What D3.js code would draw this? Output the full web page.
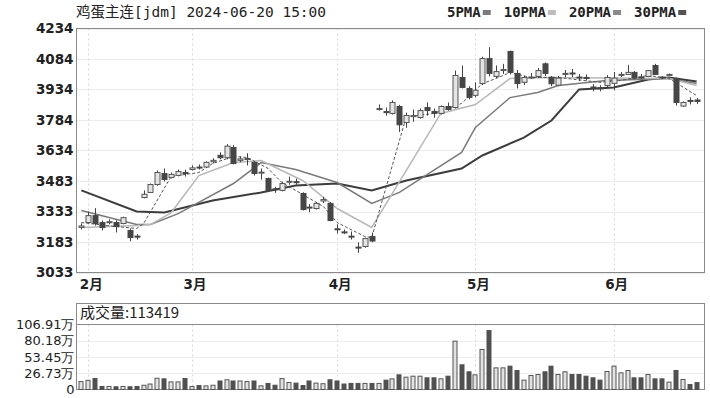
<!DOCTYPE html>
<html>
<head>
<meta charset="utf-8">
<script src="https://cdn.jsdelivr.net/npm/d3@7"></script>
<style>
  body { margin: 0; background: #fff; }
  svg { display: block; }
</style>
</head>
<body>
<div id="chart"></div>
<script>
// trading days shown on the chart
const dates = [
  '2024-01-31',
  '2024-02-01', '2024-02-02', '2024-02-05', '2024-02-06', '2024-02-07', '2024-02-08',
  '2024-02-19', '2024-02-20', '2024-02-21', '2024-02-22', '2024-02-23', '2024-02-26', '2024-02-27', '2024-02-28', '2024-02-29',
  '2024-03-01', '2024-03-04', '2024-03-05', '2024-03-06', '2024-03-07', '2024-03-08',
  '2024-03-11', '2024-03-12', '2024-03-13', '2024-03-14', '2024-03-15',
  '2024-03-18', '2024-03-19', '2024-03-20', '2024-03-21', '2024-03-22',
  '2024-03-25', '2024-03-26', '2024-03-27', '2024-03-28', '2024-03-29',
  '2024-04-01', '2024-04-02', '2024-04-03', '2024-04-08', '2024-04-09', '2024-04-10', '2024-04-11', '2024-04-12',
  '2024-04-15', '2024-04-16', '2024-04-17', '2024-04-18', '2024-04-19',
  '2024-04-22', '2024-04-23', '2024-04-24', '2024-04-25', '2024-04-26', '2024-04-29', '2024-04-30',
  '2024-05-06', '2024-05-07', '2024-05-08', '2024-05-09', '2024-05-10',
  '2024-05-13', '2024-05-14', '2024-05-15', '2024-05-16', '2024-05-17',
  '2024-05-20', '2024-05-21', '2024-05-22', '2024-05-23', '2024-05-24',
  '2024-05-27', '2024-05-28', '2024-05-29', '2024-05-30', '2024-05-31',
  '2024-06-03', '2024-06-04', '2024-06-05', '2024-06-06', '2024-06-07',
  '2024-06-11', '2024-06-12', '2024-06-13', '2024-06-14',
  '2024-06-17', '2024-06-18', '2024-06-19', '2024-06-20'
];

const opens = [
  3255, 3279, 3313, 3279, 3279, 3279, 3274, 3240, 3212, 3402,
  3427, 3466, 3520, 3501, 3511, 3525, 3540, 3552, 3552, 3578,
  3610, 3598, 3648, 3585, 3590, 3575, 3522, 3496, 3445, 3437,
  3478, 3480, 3422, 3355, 3348, 3385, 3373, 3248, 3233, 3212,
  3158, 3161, 3210, 3836, 3825, 3816, 3850, 3771, 3800, 3796,
  3845, 3826, 3816, 3850, 3845, 3993, 3939, 3905, 3963, 4086,
  3998, 4028, 4121, 4013, 3969, 3990, 3998, 4060, 3994, 3955,
  4010, 4015, 3995, 3993, 3946, 3942, 3953, 3964, 4005, 4008,
  4018, 3995, 3998, 4052, 3995, 4005, 3988, 3852, 3880, 3882
];
const highs = [
  3275, 3333, 3350, 3289, 3295, 3290, 3308, 3250, 3222, 3437,
  3471, 3535, 3545, 3525, 3540, 3540, 3560, 3565, 3580, 3595,
  3625, 3665, 3660, 3605, 3620, 3580, 3545, 3500, 3455, 3480,
  3505, 3495, 3428, 3370, 3378, 3405, 3380, 3270, 3245, 3235,
  3182, 3205, 3230, 3860, 3845, 3880, 3858, 3820, 3835, 3840,
  3870, 3840, 3855, 3870, 4027, 4052, 3950, 3969, 4095, 4142,
  4052, 4060, 4125, 4030, 4000, 4015, 4040, 4067, 4000, 4000,
  4030, 4035, 4010, 4008, 3960, 3955, 4005, 4020, 4020, 4055,
  4025, 4010, 4030, 4060, 4000, 4012, 3993, 3875, 3895, 3892
];
const lows = [
  3245, 3274, 3264, 3240, 3270, 3230, 3270, 3187, 3195, 3398,
  3425, 3460, 3481, 3496, 3506, 3505, 3535, 3540, 3548, 3570,
  3590, 3590, 3565, 3575, 3560, 3510, 3490, 3430, 3425, 3432,
  3465, 3465, 3338, 3330, 3343, 3375, 3285, 3225, 3222, 3195,
  3130, 3155, 3182, 3830, 3805, 3810, 3725, 3745, 3775, 3790,
  3805, 3795, 3810, 3830, 3840, 3939, 3885, 3895, 3955, 3998,
  3990, 4010, 4008, 3939, 3955, 3985, 3990, 4000, 3950, 3950,
  3995, 3995, 3975, 3978, 3925, 3925, 3945, 3930, 3995, 4005,
  3985, 3985, 3995, 4005, 3985, 4003, 3855, 3848, 3860, 3862
];
const closes = [
  3262, 3313, 3274, 3254, 3283, 3259, 3303, 3205, 3208, 3418,
  3466, 3525, 3491, 3516, 3530, 3520, 3548, 3550, 3575, 3585,
  3598, 3655, 3570, 3592, 3594, 3520, 3527, 3437, 3441, 3471,
  3482, 3476, 3343, 3353, 3373, 3392, 3289, 3245, 3230, 3210,
  3156, 3200, 3188, 3840, 3820, 3870, 3760, 3806, 3806, 3830,
  3830, 3816, 3850, 3835, 4003, 3944, 3895, 3930, 4086, 4013,
  4022, 4032, 4018, 3963, 3993, 3995, 4027, 4013, 3962, 3990,
  4013, 4013, 3990, 3990, 3944, 3939, 3993, 3990, 4008, 4018,
  3990, 3990, 4027, 4008, 3990, 4008, 3870, 3870, 3875, 3875
];
const volumes = [
  130000, 150000, 180000, 50000, 50000, 45000, 50000, 45000, 50000, 70000,
  90000, 185000, 175000, 125000, 125000, 180000, 50000, 65000, 60000, 70000,
  140000, 160000, 140000, 140000, 130000, 140000, 60000, 100000, 70000, 180000,
  115000, 105000, 65000, 140000, 105000, 95000, 160000, 140000, 90000, 100000,
  100000, 100000, 100000, 100000, 154000, 175000, 241000, 203000, 219000, 219000,
  192000, 192000, 175000, 219000, 795000, 406000, 291000, 241000, 658000, 970000,
  356000, 356000, 384000, 313000, 154000, 230000, 247000, 291000, 384000, 247000,
  291000, 247000, 247000, 219000, 192000, 154000, 296000, 384000, 274000, 313000,
  192000, 192000, 247000, 175000, 175000, 121000, 313000, 165000, 82000, 113419
];

// moving averages: [day index, price]
const ma5 = [
  [0, 3279], [5, 3259], [8, 3250], [9, 3274], [13, 3506], [17, 3525], [19, 3570],
  [22, 3604], [24, 3599], [27, 3545], [29, 3476], [31, 3437], [35, 3358], [37, 3279],
  [41, 3210], [42, 3205], [47, 3800], [51, 3816], [55, 3865], [58, 3963], [60, 3988],
  [62, 4018], [65, 3993], [69, 3993], [75, 3969], [78, 3978], [82, 4003], [85, 3988], [89, 3904]
];
const ma10 = [
  [0, 3255], [8, 3264], [10, 3269], [13, 3328], [17, 3510], [22, 3574], [26, 3584],
  [32, 3486], [37, 3348], [42, 3255], [52, 3816], [57, 3860], [62, 3988], [66, 3993],
  [85, 3988], [89, 3953]
];
const ma20 = [
  [0, 3338], [8, 3269], [10, 3269], [14, 3323], [22, 3471], [26, 3574], [31, 3540],
  [37, 3476], [42, 3373], [46, 3427], [55, 3624], [57, 3747], [62, 3894], [66, 3919],
  [69, 3953], [76, 3978], [85, 3988], [89, 3963]
];
const ma30 = [
  [0, 3437], [8, 3333], [12, 3328], [19, 3387], [26, 3427], [31, 3461], [37, 3471],
  [42, 3437], [47, 3486], [55, 3545], [58, 3609], [64, 3697], [68, 3781], [72, 3934],
  [77, 3944], [82, 3983], [85, 3993], [89, 3973]
];

const priceTicks = [3033, 3183, 3333, 3483, 3634, 3784, 3934, 4084, 4234];
const volTicks = [0, 267300, 534500, 801800, 1069100];
const volTickLabels = ['0', '26.73万', '53.45万', '80.18万', '106.91万'];
const monthStarts = ['2024-02-01', '2024-03-01', '2024-04-01', '2024-05-06', '2024-06-03'];
const monthLabels = ['2月', '3月', '4月', '5月', '6月'];

const title = '鸡蛋主连[jdm] 2024-06-20 15:00';
const volTitle = '成交量:' + volumes[volumes.length - 1];

const maSeries = [
  { name: '5PMA', pts: ma5, color: '#555', key: '#7a7a7a', width: 1, dash: '3,2' },
  { name: '10PMA', pts: ma10, color: '#b8b8b8', key: '#bdbdbd', width: 1.5, dash: null },
  { name: '20PMA', pts: ma20, color: '#7a7a7a', key: '#8a8a8a', width: 1.5, dash: null },
  { name: '30PMA', pts: ma30, color: '#3c3c3c', key: '#555', width: 2, dash: null }
];

const data = dates.map((d, i) => ({
  date: d, o: opens[i], h: highs[i], l: lows[i], c: closes[i], v: volumes[i]
}));

const W = 710, H = 398;
const main = { left: 76.5, right: 704.5, top: 28.5, bottom: 272.5 };
const vol = { top: 303.5, inner: 324.5, bottom: 389.5 };

const svg = d3.select('#chart').append('svg')
  .attr('width', W)
  .attr('height', H)
  .style('font-family', 'DejaVu Sans, "Noto Sans CJK SC", sans-serif');

// scales
const x = d3.scaleBand().domain(dates).range([77, 701]).padding(0.26);
const cx = d => x(d) + x.bandwidth() / 2;
const y = d3.scaleLinear().domain([3033, 4234]).range([main.bottom, main.top]);
const yv = d3.scaleLinear().domain([0, 1069100]).range([vol.bottom, vol.inner]);

// grid lines
svg.append('g')
  .selectAll('line')
  .data(priceTicks)
  .join('line')
  .attr('x1', main.left).attr('x2', main.right)
  .attr('y1', d => Math.round(y(d)) + 0.5).attr('y2', d => Math.round(y(d)) + 0.5)
  .attr('stroke', '#ececec');

svg.append('g')
  .selectAll('line')
  .data(volTicks.slice(1, -1))
  .join('line')
  .attr('x1', main.left).attr('x2', main.right)
  .attr('y1', d => Math.round(yv(d)) + 0.5).attr('y2', d => Math.round(yv(d)) + 0.5)
  .attr('stroke', '#eeeeee');

[[main.top, main.bottom], [vol.inner, vol.bottom]].forEach(([t, b]) => {
  svg.append('g')
    .selectAll('line')
    .data(monthStarts)
    .join('line')
    .attr('x1', d => Math.round(cx(d)) + 0.5).attr('x2', d => Math.round(cx(d)) + 0.5)
    .attr('y1', t).attr('y2', b)
    .attr('stroke', '#d8d8d8')
    .attr('stroke-dasharray', '2,3');
});

// frames
svg.append('rect')
  .attr('x', main.left).attr('y', main.top)
  .attr('width', main.right - main.left).attr('height', main.bottom - main.top)
  .attr('fill', 'none').attr('stroke', '#8a8a8a');
svg.append('rect')
  .attr('x', main.left).attr('y', vol.top)
  .attr('width', main.right - main.left).attr('height', vol.bottom - vol.top)
  .attr('fill', 'none').attr('stroke', '#8a8a8a');
svg.append('line')
  .attr('x1', main.left).attr('x2', main.right)
  .attr('y1', vol.inner).attr('y2', vol.inner)
  .attr('stroke', '#8a8a8a');

// moving average lines
const line = d3.line()
  .x(p => cx(dates[p[0]]))
  .y(p => y(p[1]));

svg.append('g')
  .selectAll('path')
  .data(maSeries.slice().reverse())
  .join('path')
  .attr('d', s => line(s.pts))
  .attr('fill', 'none')
  .attr('stroke', s => s.color)
  .attr('stroke-width', s => s.width)
  .attr('stroke-dasharray', s => s.dash);

// candles
const up = d => d.c >= d.o;
const candles = svg.append('g');
candles.selectAll('line')
  .data(data)
  .join('line')
  .attr('x1', d => Math.round(cx(d.date)) + 0.5)
  .attr('x2', d => Math.round(cx(d.date)) + 0.5)
  .attr('y1', d => y(d.h))
  .attr('y2', d => y(d.l))
  .attr('stroke', '#444');

candles.selectAll('rect')
  .data(data)
  .join('rect')
  .attr('x', d => Math.round(cx(d.date)) - 2)
  .attr('y', d => y(Math.max(d.o, d.c)))
  .attr('width', 5)
  .attr('height', d => Math.max(1, Math.abs(y(d.o) - y(d.c))))
  .attr('fill', d => up(d) ? '#e4e4e4' : '#464646')
  .attr('stroke', d => up(d) ? '#555' : '#464646')
  .attr('stroke-width', 1);

// volume bars
svg.append('g')
  .selectAll('rect')
  .data(data)
  .join('rect')
  .attr('x', d => Math.round(cx(d.date)) - 2)
  .attr('y', d => yv(d.v))
  .attr('width', 4)
  .attr('height', d => yv(0) - yv(d.v))
  .attr('fill', d => up(d) ? '#e2e2e2' : '#505050')
  .attr('stroke', d => up(d) ? '#555' : '#505050')
  .attr('stroke-width', 1);

// price axis
const yAxis = svg.append('g')
  .attr('transform', `translate(${main.left},0)`)
  .call(d3.axisLeft(y).tickValues(priceTicks).tickSize(0).tickPadding(3).tickFormat(d3.format('d')));
yAxis.select('.domain').remove();
yAxis.selectAll('text')
  .attr('font-family', 'DejaVu Sans, sans-serif')
  .attr('font-weight', 'bold')
  .attr('font-size', 13.5)
  .attr('fill', '#222');

// month axis
const xAxis = svg.append('g')
  .attr('transform', `translate(0,${main.bottom})`)
  .call(d3.axisBottom(x).tickValues(monthStarts).tickSize(0).tickPadding(7)
    .tickFormat((d, i) => monthLabels[i]));
xAxis.select('.domain').remove();
xAxis.selectAll('text')
  .attr('dx', 3)
  .attr('font-family', 'DejaVu Sans, "Noto Sans CJK SC", sans-serif')
  .attr('font-weight', 'bold')
  .attr('font-size', 13.5)
  .attr('fill', '#222');

// volume axis
const vAxis = svg.append('g')
  .attr('transform', `translate(${main.left},0)`)
  .call(d3.axisLeft(yv).tickValues(volTicks).tickSize(0).tickPadding(2)
    .tickFormat((d, i) => volTickLabels[i]));
vAxis.select('.domain').remove();
vAxis.selectAll('text')
  .attr('font-family', 'DejaVu Sans, sans-serif')
  .attr('font-size', 13)
  .attr('fill', '#222');

// titles
svg.append('text')
  .attr('x', 76).attr('y', 13)
  .attr('dominant-baseline', 'middle')
  .attr('font-family', '"DejaVu Sans Mono", "Noto Sans CJK SC", monospace')
  .attr('font-size', 14.5)
  .attr('fill', '#222')
  .text(title);

svg.append('text')
  .attr('x', 80).attr('y', 314)
  .attr('dominant-baseline', 'middle')
  .attr('font-family', '"Noto Sans CJK SC", "Noto Sans", sans-serif')
  .attr('font-size', 15)
  .attr('fill', '#222')
  .text(volTitle);

// legend
let lx = 447;
maSeries.forEach(s => {
  const t = svg.append('text')
    .attr('x', lx).attr('y', 13)
    .attr('dominant-baseline', 'middle')
    .attr('font-family', '"DejaVu Sans Mono", monospace')
    .attr('font-weight', 'bold')
    .attr('font-size', 14)
    .attr('fill', '#222')
    .text(s.name);
  const tw = t.node().getComputedTextLength();
  svg.append('rect')
    .attr('x', lx + tw + 2).attr('y', 10)
    .attr('width', 8).attr('height', 5)
    .attr('fill', s.key);
  lx += tw + 2 + 8 + 13;
});
</script>
</body>
</html>
